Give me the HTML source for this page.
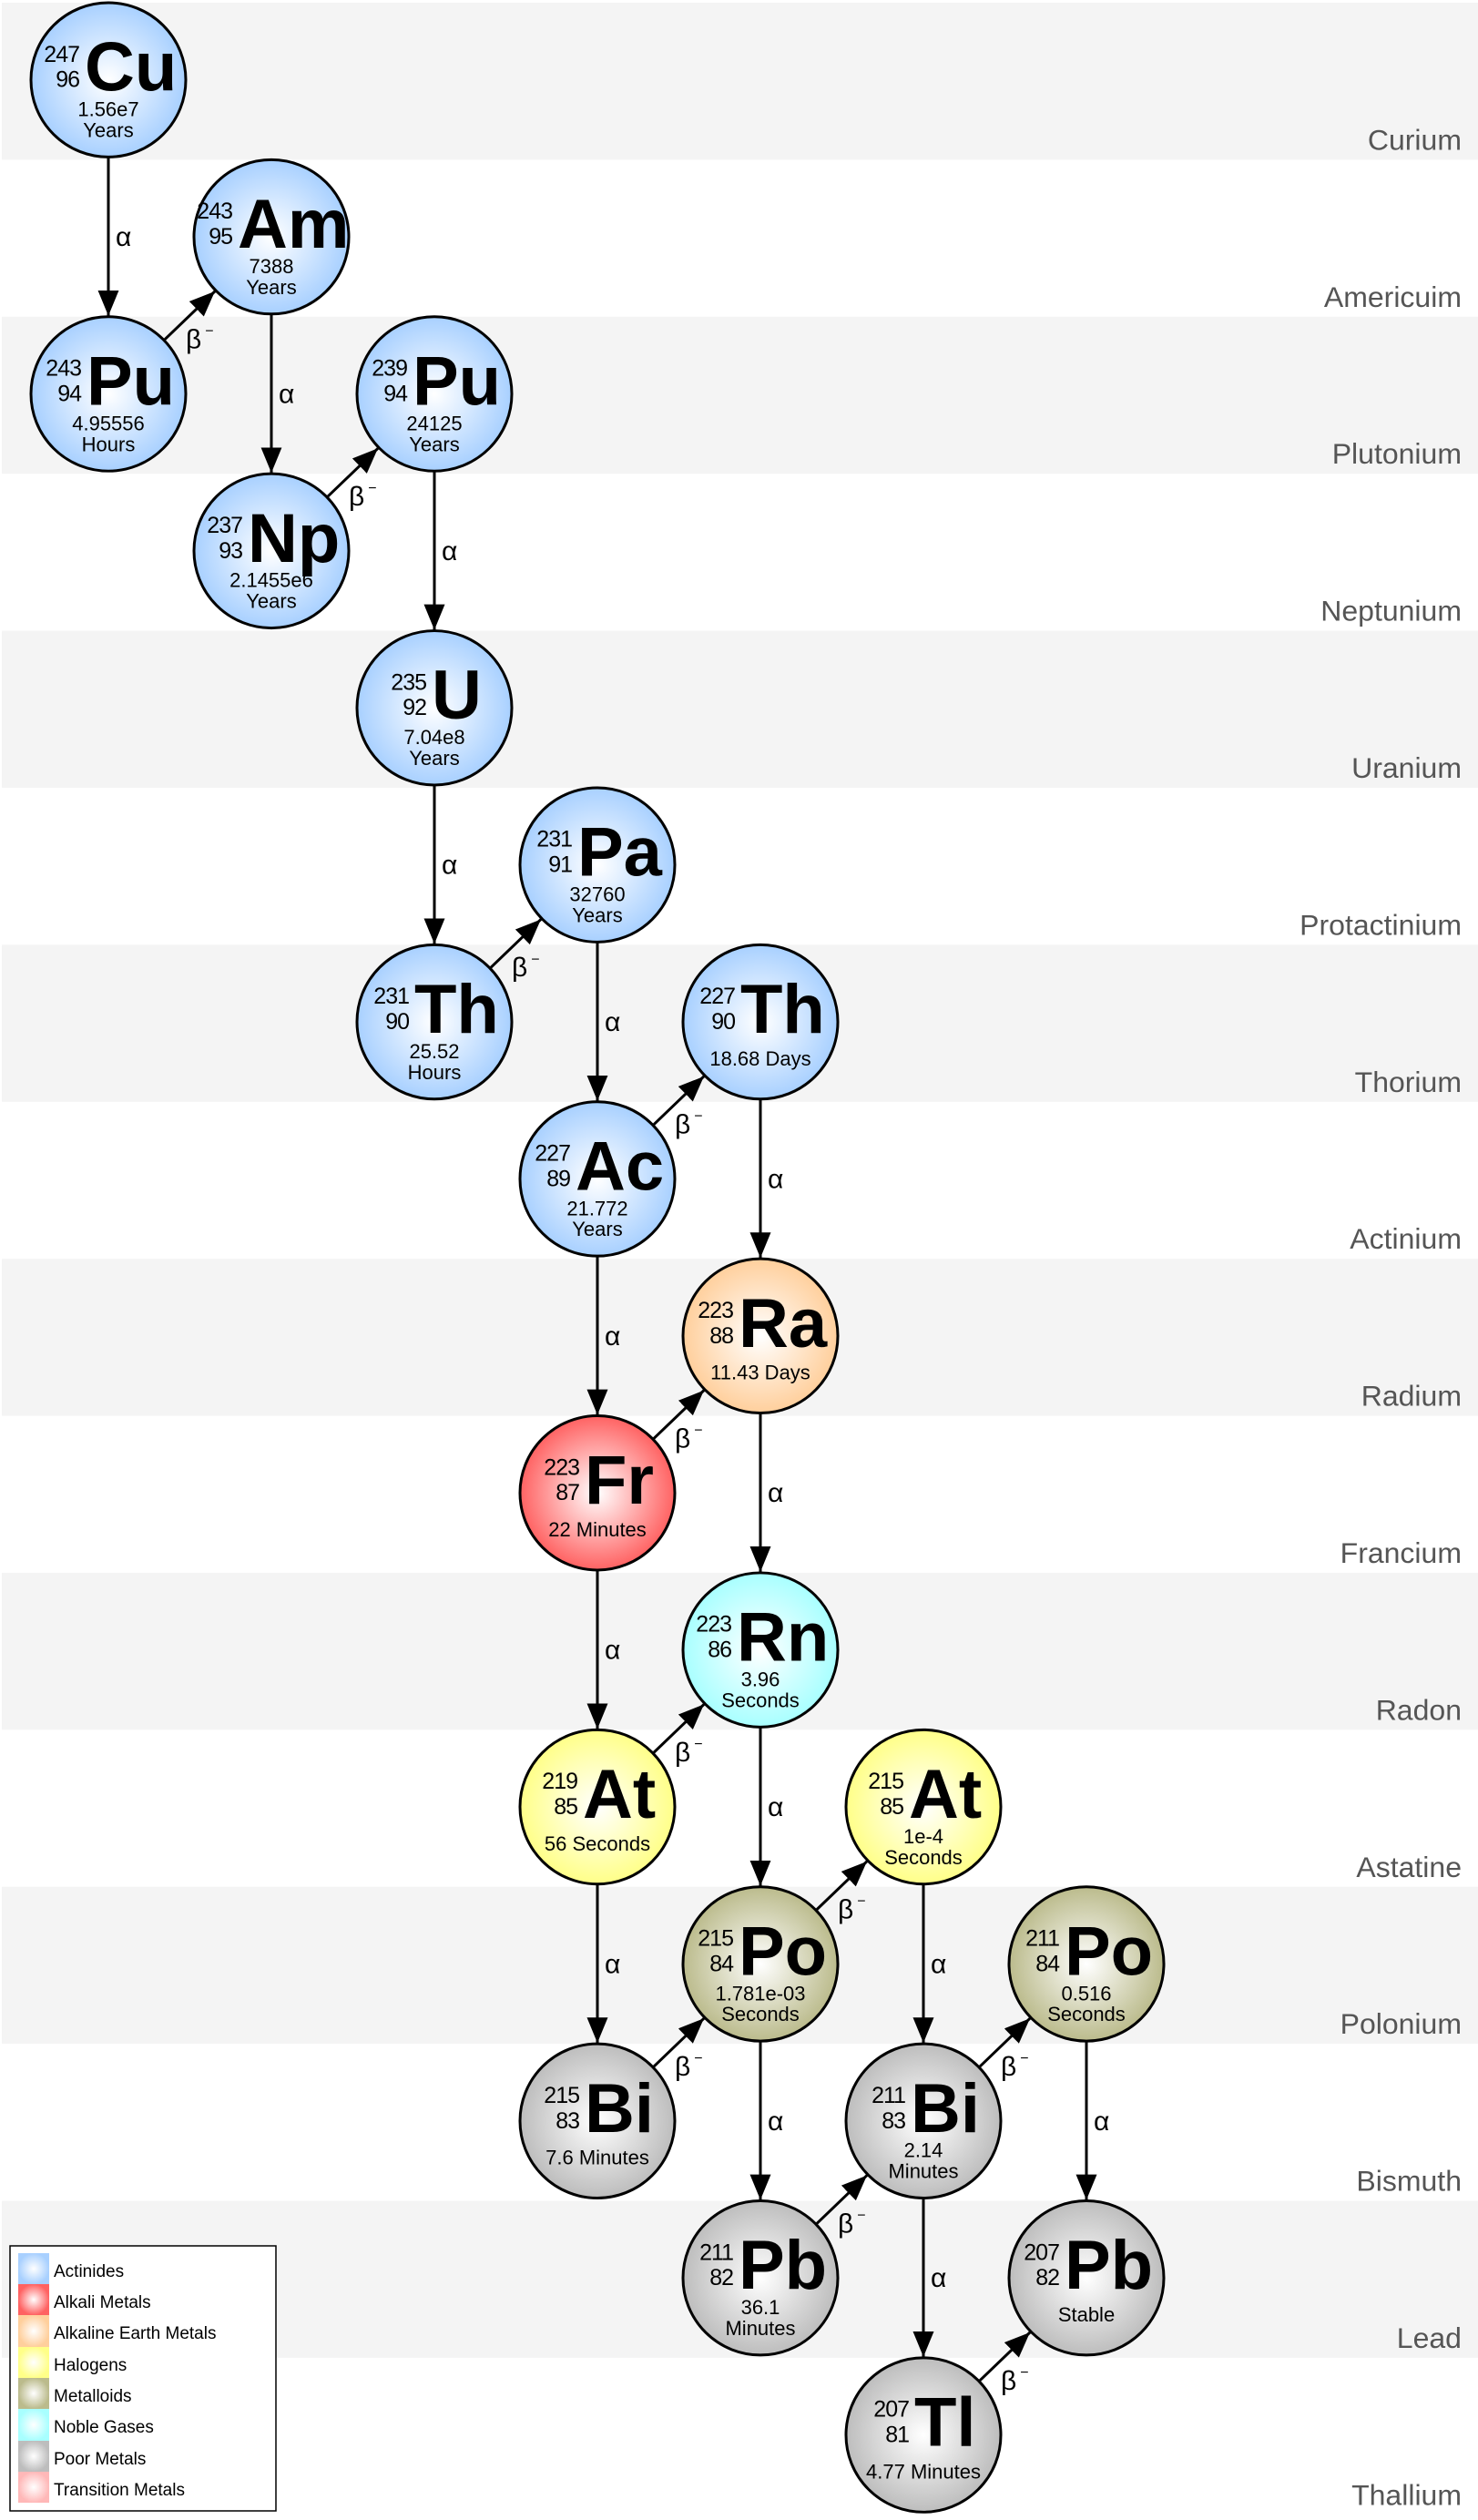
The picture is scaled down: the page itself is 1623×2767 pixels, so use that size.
<!DOCTYPE html>
<html><head><meta charset="utf-8"><style>
html,body{margin:0;padding:0;background:#fff}
svg{display:block}
.n{font-family:"Liberation Sans",sans-serif;font-size:25px;text-anchor:end;letter-spacing:-1px}
.s{font-family:"Liberation Sans",sans-serif;font-size:76px;font-weight:bold}
.h{font-family:"Liberation Sans",sans-serif;font-size:22px;text-anchor:middle}
.a{font-family:"Liberation Sans",sans-serif;font-size:30px}
.lb{font-family:"Liberation Sans",sans-serif;font-size:32px;fill:#555;text-anchor:end}
.lg{font-family:"Liberation Sans",sans-serif;font-size:19px}
</style></head><body>
<svg width="1623" height="2767" viewBox="0 0 1623 2767" xmlns="http://www.w3.org/2000/svg">
<defs>
<radialGradient id="ac"><stop offset="0" stop-color="#fff"/><stop offset="1" stop-color="#a8d0ff"/></radialGradient>
<radialGradient id="al"><stop offset="0" stop-color="#fff"/><stop offset="1" stop-color="#ff6262"/></radialGradient>
<radialGradient id="ae"><stop offset="0" stop-color="#fff"/><stop offset="1" stop-color="#ffcf9c"/></radialGradient>
<radialGradient id="ha"><stop offset="0" stop-color="#fff"/><stop offset="1" stop-color="#ffff88"/></radialGradient>
<radialGradient id="me"><stop offset="0" stop-color="#fff"/><stop offset="1" stop-color="#bbbb8c"/></radialGradient>
<radialGradient id="ng"><stop offset="0" stop-color="#fff"/><stop offset="1" stop-color="#a8ffff"/></radialGradient>
<radialGradient id="pm"><stop offset="0" stop-color="#fff"/><stop offset="1" stop-color="#bdbdbd"/></radialGradient>
<radialGradient id="tm"><stop offset="0" stop-color="#fff"/><stop offset="1" stop-color="#ffb8b8"/></radialGradient>
<marker id="ar" markerUnits="userSpaceOnUse" markerWidth="30" markerHeight="24" refX="28" refY="11.5" orient="auto"><path d="M0,0 L28,11.5 L0,23 z" fill="#000"/></marker>
</defs>
<g transform="scale(1,0.9965)">
<g fill="#f4f4f4">
<rect x="2" y="3" width="1621" height="173"/><rect x="2" y="349" width="1621" height="173"/><rect x="2" y="695" width="1621" height="173"/><rect x="2" y="1041" width="1621" height="173"/><rect x="2" y="1387" width="1621" height="173"/><rect x="2" y="1733" width="1621" height="173"/><rect x="2" y="2079" width="1621" height="173"/><rect x="2" y="2425" width="1621" height="173"/>
</g>
<g class="lb">
<text x="1605" y="165" class="lb">Curium</text>
<text x="1605" y="338" class="lb">Americuim</text>
<text x="1605" y="511" class="lb">Plutonium</text>
<text x="1605" y="684" class="lb">Neptunium</text>
<text x="1605" y="857" class="lb">Uranium</text>
<text x="1605" y="1030" class="lb">Protactinium</text>
<text x="1605" y="1203" class="lb">Thorium</text>
<text x="1605" y="1376" class="lb">Actinium</text>
<text x="1605" y="1549" class="lb">Radium</text>
<text x="1605" y="1722" class="lb">Francium</text>
<text x="1605" y="1895" class="lb">Radon</text>
<text x="1605" y="2068" class="lb">Astatine</text>
<text x="1605" y="2241" class="lb">Polonium</text>
<text x="1605" y="2414" class="lb">Bismuth</text>
<text x="1605" y="2587" class="lb">Lead</text>
<text x="1605" y="2760" class="lb">Thallium</text>
</g>
<g stroke="#000" stroke-width="3" marker-end="url(#ar)">
<line x1="119" y1="174" x2="119" y2="348"/>
<line x1="298" y1="347" x2="298" y2="521"/>
<line x1="477" y1="520" x2="477" y2="694"/>
<line x1="477" y1="866" x2="477" y2="1040"/>
<line x1="656" y1="1039" x2="656" y2="1213"/>
<line x1="835" y1="1212" x2="835" y2="1386"/>
<line x1="656" y1="1385" x2="656" y2="1559"/>
<line x1="835" y1="1558" x2="835" y2="1732"/>
<line x1="656" y1="1731" x2="656" y2="1905"/>
<line x1="835" y1="1904" x2="835" y2="2078"/>
<line x1="656" y1="2077" x2="656" y2="2251"/>
<line x1="1014" y1="2077" x2="1014" y2="2251"/>
<line x1="835" y1="2250" x2="835" y2="2424"/>
<line x1="1193" y1="2250" x2="1193" y2="2424"/>
<line x1="1014" y1="2423" x2="1014" y2="2597"/>
<line x1="181" y1="374" x2="236" y2="321"/>
<line x1="360" y1="547" x2="415" y2="494"/>
<line x1="539" y1="1066" x2="594" y2="1013"/>
<line x1="718" y1="1239" x2="773" y2="1186"/>
<line x1="718" y1="1585" x2="773" y2="1532"/>
<line x1="718" y1="1931" x2="773" y2="1878"/>
<line x1="897" y1="2104" x2="952" y2="2051"/>
<line x1="718" y1="2277" x2="773" y2="2224"/>
<line x1="897" y1="2450" x2="952" y2="2397"/>
<line x1="1076" y1="2277" x2="1131" y2="2224"/>
<line x1="1076" y1="2623" x2="1131" y2="2570"/>
</g>
<g class="a">
<text class="a" x="127" y="271">α</text>
<text class="a" x="306" y="444">α</text>
<text class="a" x="485" y="617">α</text>
<text class="a" x="485" y="963">α</text>
<text class="a" x="664" y="1136">α</text>
<text class="a" x="843" y="1309">α</text>
<text class="a" x="664" y="1482">α</text>
<text class="a" x="843" y="1655">α</text>
<text class="a" x="664" y="1828">α</text>
<text class="a" x="843" y="2001">α</text>
<text class="a" x="664" y="2174">α</text>
<text class="a" x="1022" y="2174">α</text>
<text class="a" x="843" y="2347">α</text>
<text class="a" x="1201" y="2347">α</text>
<text class="a" x="1022" y="2520">α</text>
<text class="a" x="204" y="384">β<tspan font-size="16" dx="4" dy="-14">−</tspan></text>
<text class="a" x="383" y="557">β<tspan font-size="16" dx="4" dy="-14">−</tspan></text>
<text class="a" x="562" y="1076">β<tspan font-size="16" dx="4" dy="-14">−</tspan></text>
<text class="a" x="741" y="1249">β<tspan font-size="16" dx="4" dy="-14">−</tspan></text>
<text class="a" x="741" y="1595">β<tspan font-size="16" dx="4" dy="-14">−</tspan></text>
<text class="a" x="741" y="1941">β<tspan font-size="16" dx="4" dy="-14">−</tspan></text>
<text class="a" x="920" y="2114">β<tspan font-size="16" dx="4" dy="-14">−</tspan></text>
<text class="a" x="741" y="2287">β<tspan font-size="16" dx="4" dy="-14">−</tspan></text>
<text class="a" x="920" y="2460">β<tspan font-size="16" dx="4" dy="-14">−</tspan></text>
<text class="a" x="1099" y="2287">β<tspan font-size="16" dx="4" dy="-14">−</tspan></text>
<text class="a" x="1099" y="2633">β<tspan font-size="16" dx="4" dy="-14">−</tspan></text>
</g>
<g stroke="#000" stroke-width="3">
<circle cx="119" cy="88" r="85" fill="url(#ac)"/>
<circle cx="298" cy="261" r="85" fill="url(#ac)"/>
<circle cx="119" cy="434" r="85" fill="url(#ac)"/>
<circle cx="477" cy="434" r="85" fill="url(#ac)"/>
<circle cx="298" cy="607" r="85" fill="url(#ac)"/>
<circle cx="477" cy="780" r="85" fill="url(#ac)"/>
<circle cx="656" cy="953" r="85" fill="url(#ac)"/>
<circle cx="477" cy="1126" r="85" fill="url(#ac)"/>
<circle cx="835" cy="1126" r="85" fill="url(#ac)"/>
<circle cx="656" cy="1299" r="85" fill="url(#ac)"/>
<circle cx="835" cy="1472" r="85" fill="url(#ae)"/>
<circle cx="656" cy="1645" r="85" fill="url(#al)"/>
<circle cx="835" cy="1818" r="85" fill="url(#ng)"/>
<circle cx="656" cy="1991" r="85" fill="url(#ha)"/>
<circle cx="1014" cy="1991" r="85" fill="url(#ha)"/>
<circle cx="835" cy="2164" r="85" fill="url(#me)"/>
<circle cx="1193" cy="2164" r="85" fill="url(#me)"/>
<circle cx="656" cy="2337" r="85" fill="url(#pm)"/>
<circle cx="1014" cy="2337" r="85" fill="url(#pm)"/>
<circle cx="835" cy="2510" r="85" fill="url(#pm)"/>
<circle cx="1193" cy="2510" r="85" fill="url(#pm)"/>
<circle cx="1014" cy="2683" r="85" fill="url(#pm)"/>
</g>
<text class="n" x="87" y="68">247</text><text class="n" x="87" y="96">96</text><text class="s" x="93" y="100">Cu</text>
<text class="h" x="119" y="128">1.56e7</text><text class="h" x="119" y="151">Years</text>
<text class="n" x="255" y="241">243</text><text class="n" x="255" y="269">95</text><text class="s" x="261" y="273">Am</text>
<text class="h" x="298" y="301">7388</text><text class="h" x="298" y="324">Years</text>
<text class="n" x="89" y="414">243</text><text class="n" x="89" y="442">94</text><text class="s" x="95" y="446">Pu</text>
<text class="h" x="119" y="474">4.95556</text><text class="h" x="119" y="497">Hours</text>
<text class="n" x="447" y="414">239</text><text class="n" x="447" y="442">94</text><text class="s" x="453" y="446">Pu</text>
<text class="h" x="477" y="474">24125</text><text class="h" x="477" y="497">Years</text>
<text class="n" x="266" y="587">237</text><text class="n" x="266" y="615">93</text><text class="s" x="272" y="619">Np</text>
<text class="h" x="298" y="647">2.1455e6</text><text class="h" x="298" y="670">Years</text>
<text class="n" x="468" y="760">235</text><text class="n" x="468" y="788">92</text><text class="s" x="474" y="792">U</text>
<text class="h" x="477" y="820">7.04e8</text><text class="h" x="477" y="843">Years</text>
<text class="n" x="628" y="933">231</text><text class="n" x="628" y="961">91</text><text class="s" x="634" y="965">Pa</text>
<text class="h" x="656" y="993">32760</text><text class="h" x="656" y="1016">Years</text>
<text class="n" x="449" y="1106">231</text><text class="n" x="449" y="1134">90</text><text class="s" x="455" y="1138">Th</text>
<text class="h" x="477" y="1166">25.52</text><text class="h" x="477" y="1189">Hours</text>
<text class="n" x="807" y="1106">227</text><text class="n" x="807" y="1134">90</text><text class="s" x="813" y="1138">Th</text>
<text class="h" x="835" y="1174">18.68 Days</text>
<text class="n" x="626" y="1279">227</text><text class="n" x="626" y="1307">89</text><text class="s" x="632" y="1311">Ac</text>
<text class="h" x="656" y="1339">21.772</text><text class="h" x="656" y="1362">Years</text>
<text class="n" x="805" y="1452">223</text><text class="n" x="805" y="1480">88</text><text class="s" x="811" y="1484">Ra</text>
<text class="h" x="835" y="1520">11.43 Days</text>
<text class="n" x="636" y="1625">223</text><text class="n" x="636" y="1653">87</text><text class="s" x="642" y="1657">Fr</text>
<text class="h" x="656" y="1693">22 Minutes</text>
<text class="n" x="803" y="1798">223</text><text class="n" x="803" y="1826">86</text><text class="s" x="809" y="1830">Rn</text>
<text class="h" x="835" y="1858">3.96</text><text class="h" x="835" y="1881">Seconds</text>
<text class="n" x="634" y="1971">219</text><text class="n" x="634" y="1999">85</text><text class="s" x="640" y="2003">At</text>
<text class="h" x="656" y="2039">56 Seconds</text>
<text class="n" x="992" y="1971">215</text><text class="n" x="992" y="1999">85</text><text class="s" x="998" y="2003">At</text>
<text class="h" x="1014" y="2031">1e-4</text><text class="h" x="1014" y="2054">Seconds</text>
<text class="n" x="805" y="2144">215</text><text class="n" x="805" y="2172">84</text><text class="s" x="811" y="2176">Po</text>
<text class="h" x="835" y="2204">1.781e-03</text><text class="h" x="835" y="2227">Seconds</text>
<text class="n" x="1163" y="2144">211</text><text class="n" x="1163" y="2172">84</text><text class="s" x="1169" y="2176">Po</text>
<text class="h" x="1193" y="2204">0.516</text><text class="h" x="1193" y="2227">Seconds</text>
<text class="n" x="636" y="2317">215</text><text class="n" x="636" y="2345">83</text><text class="s" x="642" y="2349">Bi</text>
<text class="h" x="656" y="2385">7.6 Minutes</text>
<text class="n" x="994" y="2317">211</text><text class="n" x="994" y="2345">83</text><text class="s" x="1000" y="2349">Bi</text>
<text class="h" x="1014" y="2377">2.14</text><text class="h" x="1014" y="2400">Minutes</text>
<text class="n" x="805" y="2490">211</text><text class="n" x="805" y="2518">82</text><text class="s" x="811" y="2522">Pb</text>
<text class="h" x="835" y="2550">36.1</text><text class="h" x="835" y="2573">Minutes</text>
<text class="n" x="1163" y="2490">207</text><text class="n" x="1163" y="2518">82</text><text class="s" x="1169" y="2522">Pb</text>
<text class="h" x="1193" y="2558">Stable</text>
<text class="n" x="998" y="2663">207</text><text class="n" x="998" y="2691">81</text><text class="s" x="1004" y="2695">Tl</text>
<text class="h" x="1014" y="2731">4.77 Minutes</text>
</g>
<rect x="11" y="2466" width="292" height="291" fill="#fff" stroke="#000" stroke-width="1.5"/>
<rect x="20" y="2474" width="34" height="34" fill="url(#ac)"/>
<rect x="20" y="2508" width="34" height="34" fill="url(#al)"/>
<rect x="20" y="2542" width="34" height="35" fill="url(#ae)"/>
<rect x="20" y="2577" width="34" height="34" fill="url(#ha)"/>
<rect x="20" y="2611" width="34" height="34" fill="url(#me)"/>
<rect x="20" y="2645" width="34" height="35" fill="url(#ng)"/>
<rect x="20" y="2680" width="34" height="34" fill="url(#pm)"/>
<rect x="20" y="2714" width="34" height="34" fill="url(#tm)"/>
<text class="lg" x="59" y="2500">Actinides</text>
<text class="lg" x="59" y="2534">Alkali Metals</text>
<text class="lg" x="59" y="2568">Alkaline Earth Metals</text>
<text class="lg" x="59" y="2603">Halogens</text>
<text class="lg" x="59" y="2637">Metalloids</text>
<text class="lg" x="59" y="2671">Noble Gases</text>
<text class="lg" x="59" y="2706">Poor Metals</text>
<text class="lg" x="59" y="2740">Transition Metals</text>
</svg>
</body></html>
